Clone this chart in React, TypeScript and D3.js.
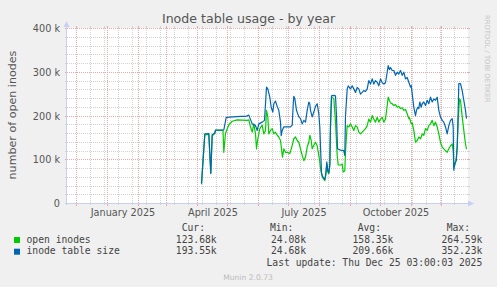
import React from "react";
import * as d3 from "d3";

// ---- data (days since 2025-01-01, value in thousands) ----
const inodeTableSize: [number, number][] = [
  [94,46],[97.3,159],[101.3,160],[103.3,69],[104.7,157],[107.3,161],[108,168],[116.3,168],[118.7,197],[133,199],[138,199],[141.3,202],[144.7,182],[148,178],[149.7,167],[151.3,182],[154.7,186],[157,190],[158,228],[159,266],[160.3,262],[162.3,243],[163.7,220],[165.3,209],[166.3,228],[168,234],[169.7,222],[171.3,213],[173,186],[173.7,155],[174.7,167],[176.3,175],[183,175],[184.7,179],[185.7,225],[186.3,245],[187.3,240],[189,213],[191.3,198],[193,194],[194.7,182],[196.3,190],[198,186],[199.7,213],[201.3,232],[202.3,228],[203,213],[204.7,198],[206.3,209],[208,222],[209.7,228],[211.3,205],[212.3,175],[213,130],[214,70],[215,62],[216.3,58],[217.3,55],[218.3,68],[219.3,95],[220.3,75],[221.3,70],[222.3,90],[223,180],[224,246],[226,247],[228,246],[229,200],[230,125],[233,122],[236.3,121],[237.3,110],[238,200],[239.7,262],[240.7,269],[243,262],[244.7,269],[246.3,262],[248,254],[249.7,265],[251.3,262],[253,250],[254.7,254],[256.3,258],[258,256],[259.7,262],[261.3,281],[263,273],[264.7,285],[266.3,273],[268,281],[269.7,277],[271.3,269],[273,285],[274.7,276],[276.3,273],[278,276],[279.7,300],[280.7,315],[282,306],[283,311],[284.7,304],[286.3,304],[288,293],[289.7,300],[291.3,296],[293,304],[294.7,293],[296.3,300],[298,285],[299.7,288],[301.3,277],[303,266],[303.7,270],[304.7,251],[306.3,220],[308,201],[309,213],[310.3,220],[311.3,217],[312.3,232],[313.7,220],[314.7,228],[316.3,232],[318,224],[319.7,236],[321.3,228],[323,243],[324.7,232],[326.3,239],[328,236],[329.7,243],[331.3,213],[333,198],[334.7,190],[336.3,186],[338,175],[339.7,159],[341.3,178],[343,190],[344.7,194],[345.7,175],[346.3,76],[347.3,91],[348.7,98],[349.7,129],[350.7,213],[351.3,274],[353,274],[354.7,258],[356.3,236],[358,213],[359,194]
];

const openInodes: [number, number][] = [
  [94,44],[97.3,157],[101.3,158],[103.3,69],[104.7,155],[107.3,160],[108,167],[115.5,167],[116.3,117],[118,160],[121.3,180],[124.7,188],[129.7,191],[139.7,190],[141.3,191],[143,175],[144.7,163],[146.3,182],[148,159],[149,125],[150.3,148],[152.3,171],[154.7,179],[156.3,159],[158,167],[159,213],[160.3,198],[161.3,159],[163,167],[164.7,171],[166.3,159],[168,163],[169.7,156],[171.3,152],[173,144],[174,125],[175,106],[176.3,125],[178,117],[179.7,117],[182.3,114],[183.7,125],[184.7,133],[186.3,148],[188,152],[189.7,144],[191.3,140],[193,125],[194.7,110],[196.3,98],[198,106],[199.7,129],[201.3,140],[202.3,156],[203.7,144],[204.7,125],[206.3,133],[208,140],[209.7,132],[211.3,110],[212.3,95],[213,80],[214,68],[215,60],[216.3,55],[217.3,52],[218.3,65],[219.3,90],[220.3,72],[221.3,68],[222.3,85],[223,175],[224,243],[226.3,240],[228,186],[229.7,110],[230.7,88],[233,88],[234.7,90],[235.7,72],[237.3,75],[238,117],[239,155],[239.7,178],[241.3,175],[243,182],[244.7,175],[246.3,167],[248,178],[249.7,175],[251.3,163],[253,159],[254.7,163],[256.3,167],[258,171],[259.7,178],[261.3,193],[263,186],[264.7,201],[266.3,193],[268,186],[269.7,197],[271.3,186],[273,193],[274.7,197],[276.3,186],[278,193],[279.7,224],[280.7,243],[282,235],[283,230],[284.7,228],[286.3,224],[288,226],[289.7,220],[291.3,222],[293,217],[294.7,219],[296.3,213],[298,215],[299.7,205],[301.3,194],[302,196],[303.7,182],[304.7,184],[306.3,167],[308,140],[309.7,144],[311.3,152],[313,148],[314.7,159],[316.3,156],[318,171],[319.7,167],[321.3,178],[323,182],[324.7,190],[326.3,178],[328,186],[329.7,175],[331.3,159],[333,140],[334.7,129],[336.3,125],[338,121],[339.7,117],[341.3,125],[343,132],[344.7,136],[345.7,121],[346.3,83],[347.3,88],[348.7,100],[349.7,129],[350.7,190],[352,239],[353,236],[354.7,198],[356.3,167],[358,136],[359,124]
];

const yTickValues = [0, 100, 200, 300, 400];
const yTickLabels = ["0", "100 k", "200 k", "300 k", "400 k"];
const xLabelMonths = [0, 3, 6, 9]; // months of 2025 that get a label
const xLabels = ["January 2025", "April 2025", "July 2025", "October 2025"];

const legendNames = ["open inodes", "inode table size"];
const legendColors = ["#00CC00", "#0066B3"];
const legendCur = ["123.68k", "193.55k"];
const legendMin = ["24.08k", "24.68k"];
const legendAvg = ["158.35k", "209.66k"];
const legendMax = ["264.59k", "352.23k"];

const title = "Inode table usage - by year";
const yTitle = "number of open inodes";
const lastUpdate = "Last update: Thu Dec 25 03:00:03 2025";

// ---- layout ----
const W = 497, H = 287;
const X0 = 67, X1 = 467, Y0 = 203, Y1 = 28;
const startDate = new Date(Date.UTC(2024, 10, 22));
const endDate = new Date(Date.UTC(2025, 11, 27));
const dataOrigin = Date.UTC(2025, 0, 1);
const DAY = 864e5;

const FONT = "'DejaVu Sans', sans-serif";
const MONO = "'DejaVu Sans Mono', monospace";
const TXT = "#555555";

export default function App() {
  const x = d3.scaleUtc().domain([startDate, endDate]).range([X0, X1]);
  const y = d3.scaleLinear().domain([0, 400]).range([Y0, Y1]);
  const px = (v: number) => Math.round(v) + 0.5;

  const majorX = d3.utcMonth.range(startDate, endDate).map((d) => px(x(d)));
  const minorX = d3.utcDay
    .range(new Date(Date.UTC(2024, 11, 15)), endDate, 14)
    .map((d) => px(x(d)));
  const majorY = yTickValues.map((v) => px(y(v)));
  const minorY = d3.range(0, 401, 20).filter((v) => v % 100 !== 0).map((v) => px(y(v)));

  const line = d3
    .line<[number, number]>()
    .x((d) => x(new Date(dataOrigin + d[0] * DAY)) + 0.5)
    .y((d) => y(d[1]) + 0.5);

  const gridMinor = { stroke: "#D2D2D2", strokeWidth: 1 };
  const gridMajor = { stroke: "#EFA8A8", strokeWidth: 1 };
  const axisCol = "#C8CFF4";

  return (
    <div style={{ position: "absolute", left: 0, top: 0 }}>
      <svg width={W} height={H} style={{ display: "block" }}>
        <rect x={0} y={0} width={W} height={H} fill="#F0F0F0" />
        <rect x={X0} y={Y1} width={X1 - X0 + 1} height={Y0 - Y1} fill="#FFFFFF" />

        {/* minor grid */}
        {minorY.map((yy, i) => (
          <g key={"my" + i}>
            <line x1={X0} x2={X1 + 1} y1={yy} y2={yy} {...gridMinor} strokeDasharray="1,1" />
            <line x1={X0 - 2} x2={X0} y1={yy} y2={yy} {...gridMinor} />
            <line x1={X1 + 1} x2={X1 + 3} y1={yy} y2={yy} {...gridMinor} />
          </g>
        ))}
        {minorX.map((xx, i) => (
          <g key={"mx" + i}>
            <line x1={xx} x2={xx} y1={Y1} y2={Y0} {...gridMinor} strokeDasharray="1,1" />
            <line x1={xx} x2={xx} y1={Y0} y2={Y0 + 2} {...gridMinor} />
            <line x1={xx} x2={xx} y1={Y1 - 2} y2={Y1} {...gridMinor} />
          </g>
        ))}
        {/* major grid */}
        {majorY.map((yy, i) => (
          <g key={"My" + i}>
            <line x1={X0} x2={X1 + 1} y1={yy} y2={yy} {...gridMajor} strokeDasharray="1,1" />
            <line x1={X0 - 2} x2={X0} y1={yy} y2={yy} {...gridMajor} />
            <line x1={X1 + 1} x2={X1 + 3} y1={yy} y2={yy} {...gridMajor} />
          </g>
        ))}
        {majorX.map((xx, i) => (
          <g key={"Mx" + i}>
            <line x1={xx} x2={xx} y1={Y1} y2={Y0} {...gridMajor} strokeDasharray="1,1" />
            <line x1={xx} x2={xx} y1={Y0} y2={Y0 + 3} {...gridMajor} />
            <line x1={xx} x2={xx} y1={Y1 - 2} y2={Y1} {...gridMajor} />
          </g>
        ))}

        {/* axes */}
        <line x1={X0 - 2} x2={X1 + 2} y1={Y0 + 0.5} y2={Y0 + 0.5} stroke={axisCol} />
        <line x1={X0 - 0.5} x2={X0 - 0.5} y1={Y0 + 2} y2={Y1 - 4} stroke={axisCol} />
        <path d={`M${X1 + 1},${Y0 - 2.5} L${X1 + 7},${Y0 + 0.5} L${X1 + 1},${Y0 + 3.5} Z`} fill={axisCol} />
        <path d={`M${X0 - 3.5},${Y1 - 1} L${X0 - 0.5},${Y1 - 7} L${X0 + 2.5},${Y1 - 1} Z`} fill={axisCol} />

        {/* data */}
        <path d={line(openInodes) || ""} fill="none" stroke={legendColors[0]} strokeWidth={1.2} strokeLinejoin="round" />
        <path d={line(inodeTableSize) || ""} fill="none" stroke={legendColors[1]} strokeWidth={1.2} strokeLinejoin="round" />

        {/* y tick labels */}
        {yTickValues.map((v, i) => (
          <text key={"yl" + i} x={60} y={px(y(v)) + 3.5} textAnchor="end" fontFamily={FONT} fontSize={9.7} fill={TXT}>
            {yTickLabels[i]}
          </text>
        ))}
        {/* x labels */}
        {xLabelMonths.map((m, i) => (
          <text
            key={"xl" + i}
            x={x(new Date(Date.UTC(2025, m, 1))) + 16}
            y={216}
            textAnchor="middle"
            fontFamily={FONT}
            fontSize={9.7}
            fill={TXT}
          >
            {xLabels[i]}
          </text>
        ))}

        {/* titles */}
        <text x={248.5} y={23} textAnchor="middle" fontFamily={FONT} fontSize={12.6} fill={TXT}>
          {title}
        </text>
        <text
          transform={`translate(15.5,115) rotate(-90)`}
          textAnchor="middle"
          fontFamily={FONT}
          fontSize={11.1}
          fill={TXT}
        >
          {yTitle}
        </text>
        <text
          transform={`translate(485,15) rotate(90)`}
          fontFamily={FONT}
          fontSize={6.8}
          fill="#C4C4C4"
        >
          RRDTOOL / TOBI OETIKER
        </text>

        {/* legend */}
        <g fontFamily={MONO} fontSize={9.7} fill="#444444">
          <text x={181.7} y={231}>Cur:</text>
          <text x={270} y={231}>Min:</text>
          <text x={357.7} y={231}>Avg:</text>
          <text x={446.7} y={231}>Max:</text>
          {legendNames.map((n, i) => {
            const by = 242.5 + i * 11.7;
            return (
              <g key={"lg" + i}>
                <rect x={14} y={by - 5.5} width={6} height={6} fill={legendColors[i]} />
                <text x={26.5} y={by}>{n}</text>
                <text x={216.7} y={by} textAnchor="end">{legendCur[i]}</text>
                <text x={306} y={by} textAnchor="end">{legendMin[i]}</text>
                <text x={393.3} y={by} textAnchor="end">{legendAvg[i]}</text>
                <text x={482.3} y={by} textAnchor="end">{legendMax[i]}</text>
              </g>
            );
          })}
          <text x={482.3} y={266} textAnchor="end">{lastUpdate}</text>
        </g>
        <text x={248} y={279.5} textAnchor="middle" fontFamily={FONT} fontSize={7.6} fill="#BBBBBB">
          Munin 2.0.73
        </text>
      </svg>
    </div>
  );
}
